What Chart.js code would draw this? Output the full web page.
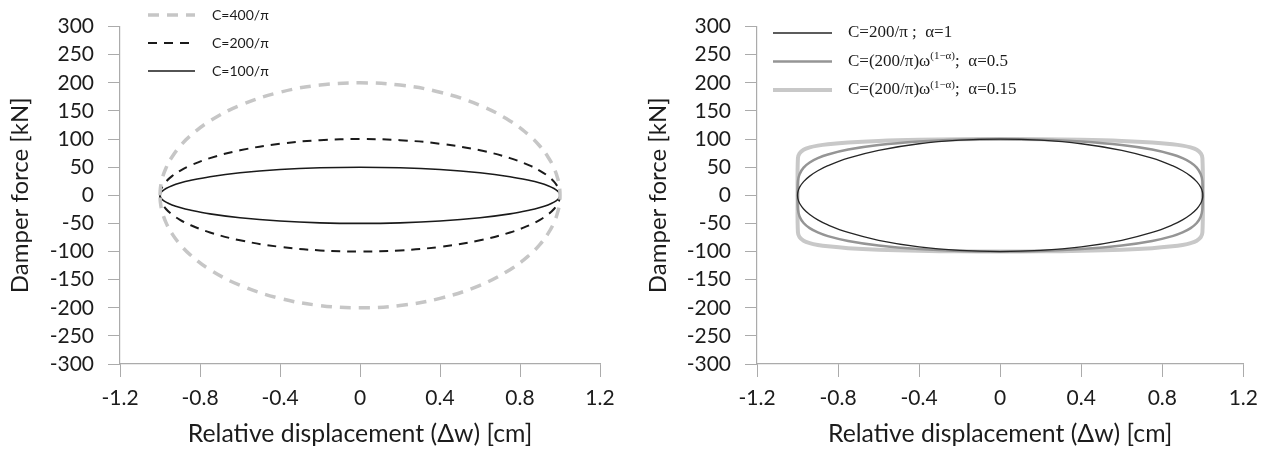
<!DOCTYPE html>
<html>
<head>
<meta charset="utf-8">
<title>Damper force loops</title>
<script src="https://cdn.jsdelivr.net/npm/chart.js@4.4.1/dist/chart.umd.min.js"></script>
<style>
    html, body { margin: 0; padding: 0; background: #fff; }
    #wrap { position: relative; width: 1267px; height: 449px; }
    .panel { position: absolute; top: 0; height: 449px; }
    #left-panel { left: 0; width: 630px; }
    #right-panel { left: 630px; width: 637px; }
</style>
</head>
<body>
<div id="wrap">
    <div class="panel" id="left-panel"><canvas id="viscous-chart"></canvas></div>
    <div class="panel" id="right-panel"><canvas id="alpha-chart"></canvas></div>
</div>
<script>
'use strict';

// displacement [cm] walked once around each loop: top half left->right, bottom half back
var disp = [
    -1, -0.998, -0.99, -0.97, -0.94, -0.9, -0.85, -0.75, -0.6, -0.4, -0.2, 0,
    0.2, 0.4, 0.6, 0.75, 0.85, 0.9, 0.94, 0.97, 0.99, 0.998, 1,
    0.998, 0.99, 0.97, 0.94, 0.9, 0.85, 0.75, 0.6, 0.4, 0.2, 0,
    -0.2, -0.4, -0.6, -0.75, -0.85, -0.9, -0.94, -0.97, -0.99, -0.998, -1
];

// left panel, linear damper [kN]
var forceC400 = [
    0, 12.6, 28.2, 48.6, 68.2, 87.2, 105.4, 132.3, 160, 183.3, 196, 200,
    196, 183.3, 160, 132.3, 105.4, 87.2, 68.2, 48.6, 28.2, 12.6, 0,
    -12.6, -28.2, -48.6, -68.2, -87.2, -105.4, -132.3, -160, -183.3, -196, -200,
    -196, -183.3, -160, -132.3, -105.4, -87.2, -68.2, -48.6, -28.2, -12.6, 0
];
var forceC200 = [
    0, 6.3, 14.1, 24.3, 34.1, 43.6, 52.7, 66.1, 80, 91.7, 98, 100,
    98, 91.7, 80, 66.1, 52.7, 43.6, 34.1, 24.3, 14.1, 6.3, 0,
    -6.3, -14.1, -24.3, -34.1, -43.6, -52.7, -66.1, -80, -91.7, -98, -100,
    -98, -91.7, -80, -66.1, -52.7, -43.6, -34.1, -24.3, -14.1, -6.3, 0
];
var forceC100 = [
    0, 3.2, 7.1, 12.2, 17.1, 21.8, 26.3, 33.1, 40, 45.8, 49, 50,
    49, 45.8, 40, 33.1, 26.3, 21.8, 17.1, 12.2, 7.1, 3.2, 0,
    -3.2, -7.1, -12.2, -17.1, -21.8, -26.3, -33.1, -40, -45.8, -49, -50,
    -49, -45.8, -40, -33.1, -26.3, -21.8, -17.1, -12.2, -7.1, -3.2, 0
];

// right panel, nonlinear damper [kN]
var forceA100 = [
    0, 6.3, 14.1, 24.3, 34.1, 43.6, 52.7, 66.1, 80, 91.7, 98, 100,
    98, 91.7, 80, 66.1, 52.7, 43.6, 34.1, 24.3, 14.1, 6.3, 0,
    -6.3, -14.1, -24.3, -34.1, -43.6, -52.7, -66.1, -80, -91.7, -98, -100,
    -98, -91.7, -80, -66.1, -52.7, -43.6, -34.1, -24.3, -14.1, -6.3, 0
];
var forceA050 = [
    0, 25.1, 37.6, 49.3, 58.4, 66, 72.6, 81.3, 89.4, 95.7, 99, 100,
    99, 95.7, 89.4, 81.3, 72.6, 66, 58.4, 49.3, 37.6, 25.1, 0,
    -25.1, -37.6, -49.3, -58.4, -66, -72.6, -81.3, -89.4, -95.7, -99, -100,
    -99, -95.7, -89.4, -81.3, -72.6, -66, -58.4, -49.3, -37.6, -25.1, 0
];
var forceA015 = [
    0, 66.1, 74.5, 80.9, 85.1, 88.3, 90.8, 94, 96.7, 98.7, 99.7, 100,
    99.7, 98.7, 96.7, 94, 90.8, 88.3, 85.1, 80.9, 74.5, 66.1, 0,
    -66.1, -74.5, -80.9, -85.1, -88.3, -90.8, -94, -96.7, -98.7, -99.7, -100,
    -99.7, -98.7, -96.7, -94, -90.8, -88.3, -85.1, -80.9, -74.5, -66.1, 0
];

var xTicks = [-1.2, -0.8, -0.4, 0, 0.4, 0.8, 1.2];
var yTicks = [-300, -250, -200, -150, -100, -50, 0, 50, 100, 150, 200, 250, 300];

var xTitle = 'Relative displacement (\u0394w) [cm]';
var yTitle = 'Damper force [kN]';

var textColor = '#1c1c1c';
var axisColor = '#ababab';
var sansFont = 'Lato';

function toPoints(ys) {
    return disp.map(function (x, i) {
        return { x: x, y: ys[i] };
    });
}

function loopDataset(label, ys, color, width, dash) {
    return {
        label: label,
        data: toPoints(ys),
        showLine: true,
        fill: false,
        tension: 0.4,
        borderColor: color,
        backgroundColor: color,
        borderWidth: width,
        borderDash: dash || [],
        pointRadius: 0,
        pointHoverRadius: 0,
    };
}

// key drawn inside the plot, top left, with optional superscript parts
var curveKey = {
    id: 'curveKey',
    afterDatasetsDraw: function (chart, args, opts) {
        if (!opts.items) {
            return;
        }
        var ctx = chart.ctx;
        ctx.save();
        opts.items.forEach(function (parts, i) {
            var ds = chart.data.datasets[i];
            var y = opts.top + i * opts.rowGap;
            ctx.beginPath();
            ctx.strokeStyle = ds.borderColor;
            ctx.lineWidth = ds.borderWidth;
            ctx.setLineDash(ds.borderDash || []);
            ctx.moveTo(opts.lineFrom, y);
            ctx.lineTo(opts.lineTo, y);
            ctx.stroke();
            ctx.setLineDash([]);

            var x = opts.textX;
            ctx.fillStyle = textColor;
            ctx.textAlign = 'left';
            ctx.textBaseline = 'middle';
            parts.forEach(function (part) {
                var size = part.sup ? opts.supSize : opts.size;
                ctx.font = size + 'px ' + opts.family;
                ctx.fillText(part.t, x, part.sup ? y - opts.supRise : y);
                x += ctx.measureText(part.t).width;
            });
        });
        ctx.restore();
    },
};

function panelOptions(padLeft, axisWidth, padRight, key) {
    return {
        responsive: true,
        maintainAspectRatio: false,
        animation: false,
        layout: {
            padding: { left: padLeft, right: padRight, top: 25, bottom: 0 },
        },
        scales: {
            x: {
                type: 'linear',
                min: -1.2,
                max: 1.2,
                afterFit: function (scale) {
                    scale.height = 85;
                },
                afterBuildTicks: function (scale) {
                    scale.ticks = xTicks.map(function (v) {
                        return { value: v };
                    });
                },
                ticks: {
                    color: textColor,
                    font: { family: sansFont, size: 21 },
                    padding: 9,
                    maxRotation: 0,
                    autoSkip: false,
                    callback: function (v) {
                        return String(Math.round(v * 10) / 10);
                    },
                },
                grid: {
                    drawOnChartArea: false,
                    drawTicks: true,
                    tickLength: 13,
                    color: axisColor,
                    lineWidth: 1,
                },
                border: { color: axisColor, width: 1.2 },
                title: {
                    display: true,
                    text: xTitle,
                    color: textColor,
                    font: { family: sansFont, size: 24.8 },
                    padding: { top: 0, bottom: 0 },
                },
            },
            y: {
                type: 'linear',
                min: -300,
                max: 300,
                afterFit: function (scale) {
                    scale.width = axisWidth;
                },
                afterBuildTicks: function (scale) {
                    scale.ticks = yTicks.map(function (v) {
                        return { value: v };
                    });
                },
                ticks: {
                    color: textColor,
                    font: { family: sansFont, size: 21 },
                    padding: 14,
                    autoSkip: false,
                },
                grid: {
                    drawOnChartArea: false,
                    drawTicks: true,
                    tickLength: 12,
                    color: axisColor,
                    lineWidth: 1,
                },
                border: { color: axisColor, width: 1.2 },
                title: {
                    display: true,
                    text: yTitle,
                    color: textColor,
                    font: { family: sansFont, size: 24 },
                    padding: { top: 0, bottom: 0 },
                },
            },
        },
        plugins: {
            legend: { display: false },
            tooltip: { enabled: false },
            curveKey: key,
        },
    };
}

new Chart(document.getElementById('viscous-chart'), {
    type: 'scatter',
    data: {
        datasets: [
            loopDataset('C=400/\u03c0', forceC400, '#c6c6c6', 3.5, [11, 8]),
            loopDataset('C=200/\u03c0', forceC200, '#1a1a1a', 2, [9, 7]),
            loopDataset('C=100/\u03c0', forceC100, '#1a1a1a', 1.6),
        ],
    },
    options: panelOptions(6, 114, 30, {
        top: 15,
        rowGap: 28,
        lineFrom: 148,
        lineTo: 195,
        textX: 212,
        family: sansFont,
        size: 14,
        items: [
            [{ t: 'C=400/\u03c0' }],
            [{ t: 'C=200/\u03c0' }],
            [{ t: 'C=100/\u03c0' }],
        ],
    }),
    plugins: [curveKey],
});

new Chart(document.getElementById('alpha-chart'), {
    type: 'scatter',
    data: {
        datasets: [
            loopDataset('\u03b1=1', forceA100, '#262626', 1.3),
            loopDataset('\u03b1=0.5', forceA050, '#959595', 2.5),
            loopDataset('\u03b1=0.15', forceA015, '#c8c8c8', 4),
        ],
    },
    options: panelOptions(14, 113, 22, {
        top: 33,
        rowGap: 28.5,
        lineFrom: 143,
        lineTo: 202,
        textX: 218,
        family: '"Liberation Serif"',
        size: 17,
        supSize: 11,
        supRise: 5,
        items: [
            [{ t: 'C=200/\u03c0 ;  \u03b1=1' }],
            [{ t: 'C=(200/\u03c0)\u03c9' }, { t: '(1\u2212\u03b1)', sup: true }, { t: ';  \u03b1=0.5' }],
            [{ t: 'C=(200/\u03c0)\u03c9' }, { t: '(1\u2212\u03b1)', sup: true }, { t: ';  \u03b1=0.15' }],
        ],
    }),
    plugins: [curveKey],
});
</script>
</body>
</html>
